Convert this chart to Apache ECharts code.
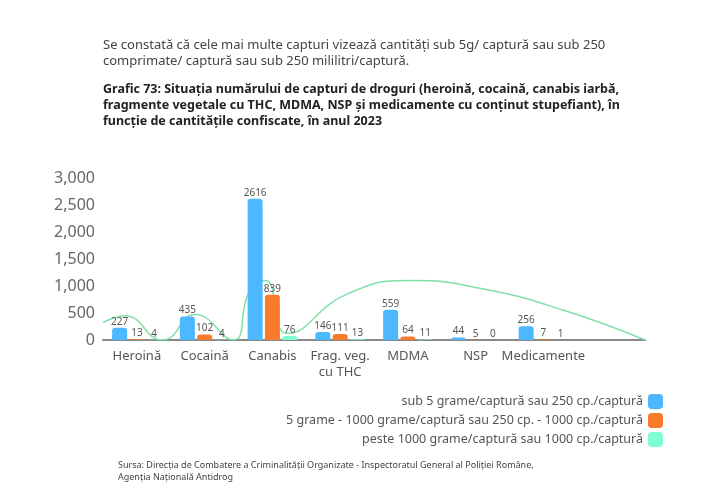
<!DOCTYPE html>
<html><head><meta charset="utf-8">
<script src="https://cdn.jsdelivr.net/npm/echarts@6/dist/echarts.min.js"></script>
<style>body{margin:0;background:#fff}#c{width:720px;height:494px}</style></head>
<body><div id="c"></div>
<script>
const categories = ['Heroină','Cocaină','Canabis','Frag. veg.\ncu THC','MDMA','NSP','Medicamente',''];
const sub5 = [227,435,2616,146,559,44,256,null];
const mid = [13,102,839,111,64,5,7,null];
const peste = [4,4,76,13,11,0,1,null];
const seriesNames = ['sub 5 grame/captură sau 250 cp./captură','5 grame - 1000 grame/captură sau 250 cp. - 1000 cp./captură','peste 1000 grame/captură sau 1000 cp./captură'];
const curve = [[0,320],[4,450],[11,0],[17,470],[24,0],[27,900],[30,1100],[34,120],[45,850],[57,1100],[70,950],[85,550],[100,0]];
const yTicks = [0,500,1000,1500,2000,2500,3000];
const F = 'Noto Sans';
const lbl = {show:true,position:'top',color:'#555',fontSize:10,fontFamily:F,distance:1};
const mk = (name,data,color)=>({name,type:'bar',data,barWidth:15,barGap:'15%',itemStyle:{color,borderRadius:[3,3,0,0]},label:lbl,z:3});
const chart = echarts.init(document.getElementById('c'));
chart.setOption({
  textStyle:{fontFamily:F},
  graphic:[
    {type:'text',left:103,top:37,style:{text:'Se constată că cele mai multe capturi vizează cantități sub 5g/ captură sau sub 250\ncomprimate/ captură sau sub 250 mililitri/captură.',font:'13px Noto Sans',fill:'#444',lineHeight:16}},
    {type:'text',left:103,top:81,style:{text:'Grafic 73: Situația numărului de capturi de droguri (heroină, cocaină, canabis iarbă,\nfragmente vegetale cu THC, MDMA, NSP și medicamente cu conținut stupefiant), în\nfuncție de cantitățile confiscate, în anul 2023',font:'bold 12.5px Noto Sans',fill:'#222',lineHeight:16}},
    {type:'text',left:118,top:459,style:{text:'Sursa: Direcția de Combatere a Criminalității Organizate - Inspectoratul General al Poliției Române,\nAgenția Națională Antidrog',font:'9px Noto Sans',fill:'#444',lineHeight:12}}
  ],
  legend:{orient:'vertical',right:52,top:389,align:'right',itemWidth:15,itemHeight:15,itemGap:4,
    textStyle:{fontSize:12.5,color:'#555',fontFamily:F,padding:[0,0,0,0]},
    data:seriesNames,icon:'roundRect'},
  grid:{left:103,right:75,top:178,bottom:154},
  xAxis:[{type:'category',data:categories,axisTick:{show:false},axisLine:{lineStyle:{color:'#888',width:2}},
    axisLabel:{color:'#555',fontSize:13,fontFamily:F,interval:0,lineHeight:16}},
    {type:'value',min:0,max:100,show:false}],
  yAxis:{type:'value',min:0,max:3000,interval:500,splitLine:{show:false},
    axisLabel:{color:'#666',fontSize:16,fontFamily:F,customValues:yTicks},axisLine:{show:false},axisTick:{show:false}},
  series:[
    mk(seriesNames[0],sub5,'#4db8ff'),
    mk(seriesNames[1],mid,'#f97a2a'),
    mk(seriesNames[2],peste,'#7dffd2'),
    {type:'line',xAxisIndex:1,data:curve,smooth:0.5,symbol:'none',lineStyle:{color:'#7fe0a8',width:1.5},z:1,silent:true,legendHoverLink:false}
  ]
});
</script></body></html>
